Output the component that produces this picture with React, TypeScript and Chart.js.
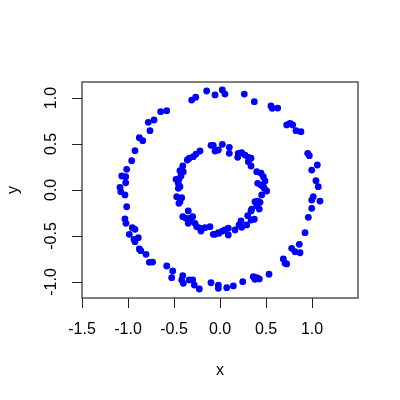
import React, { useEffect, useRef } from "react";
import { Chart, registerables } from "chart.js";

Chart.register(...registerables);

// Outer ring points (x, y)
const outerX = [-0.145, -0.054, -0.308, -0.264, -0.645, -0.579, -0.779, -0.717, -0.761, -0.877, -0.84, -0.924, -0.96, -1.014, -1.068, -1.025, -1.025, -1.087,
  0.025, 0.054, 0.264, 0.373, 0.554, 0.568, 0.627, 0.725, 0.761, 0.79, 0.826, 0.88, 0.953, 0.971, 1.058, 0.997, 1.043, 1.068,
  -1.079, -1.033, -1.014, -1.033, -1.022, -0.953, -0.924, -0.986, -0.935, -0.888, -0.924, -0.877, -0.862, -0.804, -0.768, -0.732, -0.579, -0.514, -0.525, -0.405, -0.416, -0.399, -0.334, -0.297, -0.279, -0.225, -0.098, -0.018, -0.018,
  1.014, 0.997, 1.087, 0.997, 0.96, 0.924, 0.862, 0.779, 0.815, 0.87, 0.688, 0.707, 0.725, 0.533, 0.362, 0.399, 0.427, 0.38, 0.247, 0.145, 0.073];
const outerY = [1.076, 1.033, 0.978, 1.008, 0.851, 0.862, 0.736, 0.761, 0.645, 0.568, 0.536, 0.427, 0.318, 0.225, 0.152, 0.145, 0.079, 0.029,
  1.087, 1.043, 1.043, 0.96, 0.913, 0.888, 0.891, 0.707, 0.725, 0.707, 0.645, 0.634, 0.399, 0.373, 0.272, 0.217, 0.101, 0.036,
  -0.018, -0.054, -0.182, -0.315, -0.362, -0.41, -0.427, -0.482, -0.536, -0.518, -0.562, -0.641, -0.66, -0.699, -0.786, -0.783, -0.826, -0.88, -0.953, -0.932, -0.978, -1.014, -0.978, -0.978, -1.033, -1.076, -1.008, -1.033, -1.068,
  -0.073, -0.109, -0.12, -0.199, -0.297, -0.464, -0.59, -0.634, -0.671, -0.682, -0.75, -0.797, -0.804, -0.916, -0.942, -0.953, -0.967, -0.971, -0.997, -1.043, -1.062];

// Inner ring points (x, y)
const innerX = [-0.098, -0.073, -0.054, -0.018, -0.217, -0.261, -0.29, -0.334, -0.355, -0.405, -0.435, -0.399, -0.478, -0.446, -0.424, -0.453, -0.435,
  0.025, 0.101, 0.101, 0.199, 0.236, 0.272, 0.192, 0.308, 0.337, 0.308, 0.337, 0.399, 0.446, 0.471, 0.489, 0.41, 0.446, 0.471,
  -0.453, -0.471, -0.416, -0.435, -0.446, -0.345, -0.405, -0.37, -0.334, -0.297, -0.345, -0.326, -0.272, -0.253, -0.217, -0.207, -0.163, -0.109, -0.073, -0.018,
  0.482, 0.507, 0.453, 0.38, 0.41, 0.435, 0.399, 0.427, 0.345, 0.337, 0.301, 0.373, 0.337, 0.29, 0.228, 0.207, 0.236, 0.163, 0.09, 0.054, 0.025, 0.09, -0.011, -0.054];
const innerY = [0.486, 0.486, 0.424, 0.435, 0.424, 0.391, 0.362, 0.345, 0.326, 0.261, 0.21, 0.199, 0.116, 0.12, 0.152, 0.073, 0.036,
  0.497, 0.464, 0.399, 0.399, 0.405, 0.38, 0.355, 0.355, 0.345, 0.308, 0.261, 0.199, 0.182, 0.145, 0.098, 0.073, 0.054, 0.036,
  0.018, -0.073, -0.084, -0.127, -0.145, -0.228, -0.29, -0.308, -0.308, -0.29, -0.362, -0.337, -0.362, -0.399, -0.416, -0.446, -0.41, -0.399, -0.482, -0.464,
  0.018, -0.011, -0.054, -0.127, -0.12, -0.134, -0.17, -0.207, -0.207, -0.228, -0.279, -0.318, -0.326, -0.38, -0.337, -0.38, -0.405, -0.435, -0.416, -0.435, -0.446, -0.489, -0.471, -0.482];

const xTicks = [-1.5, -1.0, -0.5, 0.0, 0.5, 1.0];
const xTickLabels = ["-1.5", "-1.0", "-0.5", "0.0", "0.5", "1.0"];
const yTicks = [-1.0, -0.5, 0.0, 0.5, 1.0];
const yTickLabels = ["-1.0", "-0.5", "0.0", "0.5", "1.0"];
const xTitle = "x";
const yTitle = "y";

const FONT = '16px "Liberation Sans", Arial, sans-serif';

const rAxesPlugin = {
  id: "rAxes",
  afterDraw(chart: any) {
    const ctx = chart.ctx as CanvasRenderingContext2D;
    const { left, right, top, bottom } = chart.chartArea;
    const xs = chart.scales.x;
    const ys = chart.scales.y;
    ctx.save();
    // box
    ctx.strokeStyle = "#555";
    ctx.lineWidth = 1.5;
    ctx.strokeRect(left, top, right - left, bottom - top);
    ctx.strokeStyle = "#222";
    ctx.lineWidth = 1;
    ctx.fillStyle = "#000";
    ctx.font = FONT;
    // x ticks
    ctx.textAlign = "center";
    ctx.textBaseline = "middle";
    xTicks.forEach((v, i) => {
      const px = Math.round(xs.getPixelForValue(v)) + 0.5;
      ctx.beginPath();
      ctx.moveTo(px, bottom);
      ctx.lineTo(px, bottom + 10);
      ctx.stroke();
      ctx.fillText(xTickLabels[i], xs.getPixelForValue(v), bottom + 32);
    });
    // y ticks
    yTicks.forEach((v, i) => {
      const py = Math.round(ys.getPixelForValue(v)) + 0.5;
      ctx.beginPath();
      ctx.moveTo(left - 10, py);
      ctx.lineTo(left, py);
      ctx.stroke();
      ctx.save();
      ctx.translate(left - 30, ys.getPixelForValue(v));
      ctx.rotate(-Math.PI / 2);
      ctx.fillText(yTickLabels[i], 0, 0);
      ctx.restore();
    });
    // titles
    ctx.fillText(xTitle, (left + right) / 2, bottom + 73);
    ctx.save();
    ctx.translate(left - 68, (top + bottom) / 2);
    ctx.rotate(-Math.PI / 2);
    ctx.fillText(yTitle, 0, 0);
    ctx.restore();
    ctx.restore();
  },
};

export default function App() {
  const ref = useRef<HTMLCanvasElement | null>(null);
  useEffect(() => {
    document.body.style.margin = "0";
    if (!ref.current) return;
    const toPts = (xs: number[], ys: number[]) => xs.map((x, i) => ({ x, y: ys[i] }));
    const chart = new Chart(ref.current, {
      type: "scatter",
      data: {
        datasets: [
          {
            label: "outer",
            data: toPts(outerX, outerY),
            backgroundColor: "#0000ff",
            borderWidth: 0,
            pointRadius: 3.4,
          },
          {
            label: "inner",
            data: toPts(innerX, innerY),
            backgroundColor: "#0000ff",
            borderWidth: 0,
            pointRadius: 3.4,
          },
        ],
      },
      options: {
        animation: false,
        responsive: false,
        devicePixelRatio: 1,
        layout: { padding: { left: 82, right: 42, top: 82, bottom: 102 } },
        plugins: { legend: { display: false }, tooltip: { enabled: false } },
        scales: {
          x: { type: "linear", min: -1.5, max: 1.5, display: false },
          y: { type: "linear", min: -1.174, max: 1.174, display: false },
        },
      },
      plugins: [rAxesPlugin],
    });
    return () => chart.destroy();
  }, []);
  return (
    <div style={{ position: "absolute", left: 0, top: 0, width: 400, height: 400, background: "#fff" }}>
      <canvas ref={ref} width={400} height={400} />
    </div>
  );
}
